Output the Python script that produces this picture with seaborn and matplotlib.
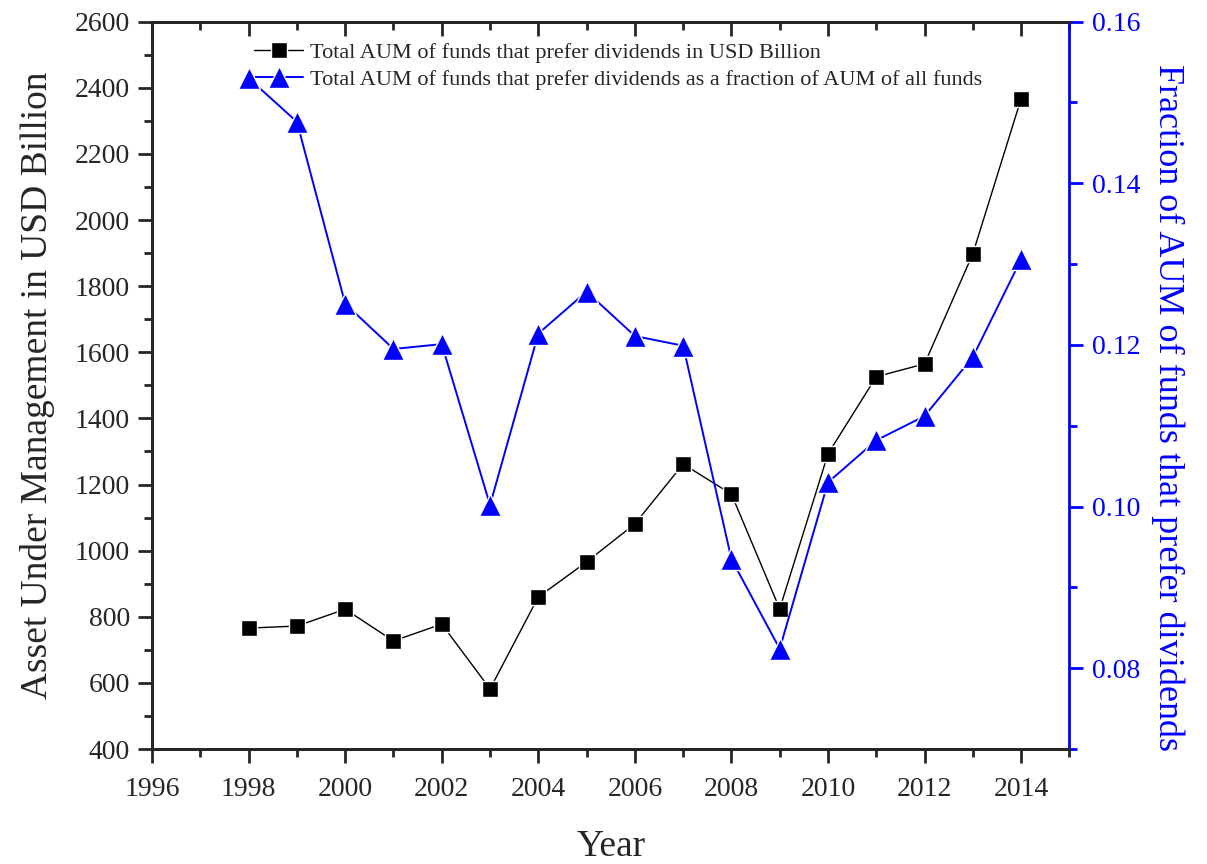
import numpy as np
import pandas as pd
import matplotlib
matplotlib.use("Agg")
import matplotlib.pyplot as plt
import seaborn as sns
from matplotlib.ticker import MultipleLocator

years = [1998, 1999, 2000, 2001, 2002, 2003, 2004, 2005, 2006,
         2007, 2008, 2009, 2010, 2011, 2012, 2013, 2014]
aum_usd = [766, 772, 823, 727, 778, 582, 860, 966, 1081,
           1262, 1171, 824, 1293, 1526, 1565, 1898, 2367]
aum_fraction = [0.1530, 0.1476, 0.1251, 0.1195, 0.1201, 0.1002, 0.1214, 0.1266, 0.1211,
                0.1199, 0.0935, 0.0824, 0.1030, 0.1082, 0.1112, 0.1185, 0.1306]

label_usd = "Total AUM of funds that prefer dividends in USD Billion"
label_frac = "Total AUM of funds that prefer dividends as a fraction of AUM of all funds"

df = pd.DataFrame({"Year": years, "AUM": aum_usd, "Fraction": aum_fraction})

sns.set_style("ticks")
plt.rcParams["font.family"] = ["Liberation Serif", "DejaVu Serif"]

fig, ax = plt.subplots(figsize=(12.07, 8.64), dpi=100)
ax2 = ax.twinx()

sns.lineplot(data=df, x="Year", y="AUM", ax=ax, color="black", linewidth=1.0,
             marker="s", markersize=12, markeredgecolor="white", markeredgewidth=1.0,
             label=label_usd, legend=False)
sns.lineplot(data=df, x="Year", y="Fraction", ax=ax2, color="blue", linewidth=1.4,
             marker="^", markersize=16, markeredgecolor="white", markeredgewidth=1.0,
             label=label_frac, legend=False)

ax.set_xlim(1996, 2015)
ax.set_ylim(400, 2600)
ax2.set_ylim(0.07, 0.16)

ax.xaxis.set_major_locator(MultipleLocator(2))
ax.xaxis.set_minor_locator(MultipleLocator(1))
ax.yaxis.set_major_locator(MultipleLocator(200))
ax.yaxis.set_minor_locator(MultipleLocator(100))
ax2.yaxis.set_major_locator(MultipleLocator(0.02))
ax2.yaxis.set_minor_locator(MultipleLocator(0.01))
ax2.yaxis.set_major_formatter(matplotlib.ticker.FormatStrFormatter("%.2f"))

ax.tick_params(axis="both", which="major", length=10, width=2, labelsize=20,
               direction="out", pad=6)
ax.tick_params(axis="x", which="major", pad=10)
ax.tick_params(axis="both", which="minor", length=6, width=2, direction="out")
ax.tick_params(axis="x", which="both", top=True)
ax2.tick_params(axis="y", which="major", length=10, width=2, labelsize=20,
                colors="blue", direction="out", pad=6)
ax2.tick_params(axis="y", which="minor", length=6, width=2, colors="blue", direction="out")

# top axis ticks point inward
for t in ax.xaxis.get_major_ticks() + ax.xaxis.get_minor_ticks():
    t.tick2line.set_marker(matplotlib.lines.TICKDOWN)

for s in ["left", "bottom", "top"]:
    ax.spines[s].set_linewidth(2)
    ax2.spines[s].set_linewidth(2)
ax2.spines["right"].set_linewidth(2)
ax2.spines["right"].set_color("blue")
ax.spines["right"].set_visible(False)

ax.set_xlabel("Year", fontsize=27, labelpad=20)
ax.set_ylabel("Asset Under Management in USD Billion", fontsize=27, labelpad=14)
ax2.set_ylabel("Fraction of AUM of funds that prefer dividends", fontsize=26,
               color="blue", rotation=270, labelpad=42)
ax2.yaxis.set_label_coords(1.125, 0.47)

h1, l1 = ax.get_legend_handles_labels()
h2, l2 = ax2.get_legend_handles_labels()
ax.legend(h1 + h2, l1 + l2, loc="upper left", bbox_to_anchor=(0.097, 0.99),
          frameon=False, fontsize=16, handlelength=2.2, handletextpad=0.3,
          labelspacing=0.3, borderaxespad=0.2)

fig.subplots_adjust(left=0.126, right=0.886, top=0.975, bottom=0.133)
fig.savefig("out.png", dpi=100)
